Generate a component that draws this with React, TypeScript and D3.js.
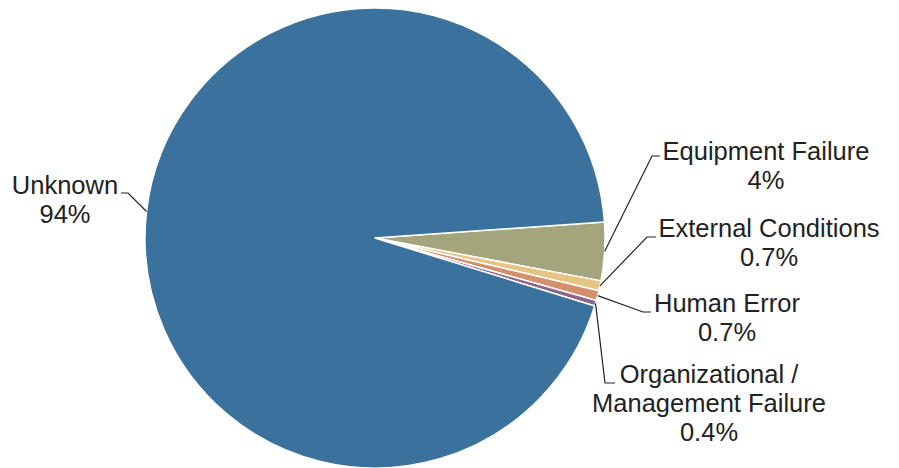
import React from "react";
import * as d3 from "d3";

const categories = ["Equipment Failure", "External Conditions", "Human Error", "Organizational / Management Failure", "Unknown"];
const values = [4.1, 0.7, 0.7, 0.4, 94.2];
const percentLabels = ["4%", "0.7%", "0.7%", "0.4%", "94%"];
const labelLines = [
  ["Equipment Failure", "4%"],
  ["External Conditions", "0.7%"],
  ["Human Error", "0.7%"],
  ["Organizational /", "Management Failure", "0.4%"],
  ["Unknown", "94%"],
];
const colors = ["#a5a57d", "#e6c582", "#d48f6d", "#8c6587", "#3b719d"];

// label layout: elbow point, line end, text center x, first baseline y
const labelLayout = [
  { elbow: [652, 156], end: [660, 156], cx: 766, y: 160 },
  { elbow: [647, 237], end: [656, 237], cx: 769, y: 237 },
  { elbow: [643, 312], end: [651, 312], cx: 727, y: 312 },
  { elbow: [605, 383], end: [615, 383], cx: 709, y: 383 },
  { elbow: [128, 193], end: [121, 193], cx: 65, y: 194 },
];

const W = 899;
const H = 468;
const CX = 375;
const CY = 238;
const R = 230;

export default function App() {
  const startDeg = 86;
  const pie = d3
    .pie<number>()
    .sort(null)
    .value((d) => d)
    .startAngle((startDeg * Math.PI) / 180)
    .endAngle(((startDeg + 360) * Math.PI) / 180);
  const arcs = pie(values);
  const arc = d3.arc<d3.PieArcDatum<number>>().innerRadius(0).outerRadius(R);
  const lineH = 29;

  return (
    <svg
      width={W}
      height={H}
      style={{ position: "absolute", left: 0, top: 0, background: "#fff" }}
      fontFamily="'Liberation Sans', Arial, sans-serif"
    >
      <g transform={`translate(${CX},${CY})`}>
        {arcs.map((a, i) => (
          <path key={i} d={arc(a) || ""} fill={colors[i]} stroke="#fff" strokeWidth={1.5} strokeLinejoin="round" />
        ))}
      </g>
      {arcs.map((a, i) => {
        const mid = (a.startAngle + a.endAngle) / 2;
        const px = CX + R * Math.sin(mid);
        const py = CY - R * Math.cos(mid);
        const L = labelLayout[i];
        return (
          <g key={"l" + i}>
            <polyline
              points={`${px},${py} ${L.elbow[0]},${L.elbow[1]} ${L.end[0]},${L.end[1]}`}
              fill="none"
              stroke="#222"
              strokeWidth={1.2}
            />
            <text textAnchor="middle" fontSize={25.5} fill="#222">
              {labelLines[i].map((t, j) => (
                <tspan key={j} x={L.cx} y={L.y + j * lineH}>
                  {t}
                </tspan>
              ))}
            </text>
          </g>
        );
      })}
    </svg>
  );
}
